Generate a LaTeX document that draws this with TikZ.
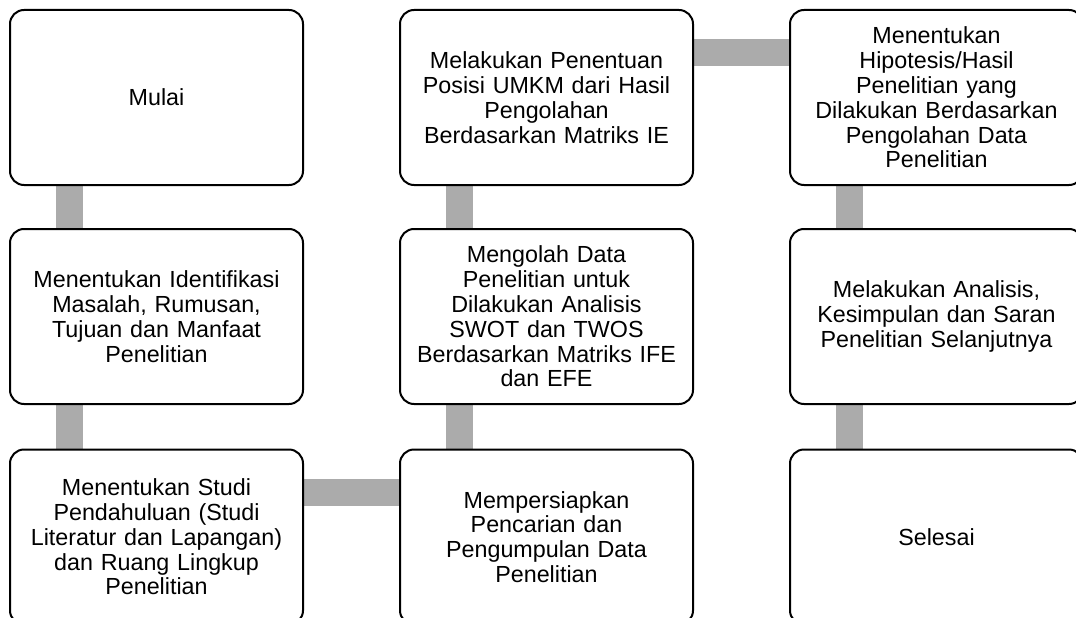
\documentclass[tikz,border=0pt]{standalone}
\usepackage{fontspec}
\setmainfont{Liberation Sans}
\usetikzlibrary{backgrounds}
\definecolor{abu}{HTML}{ABABAB}
\begin{document}
\begin{tikzpicture}[x=1pt,y=-1pt,
        tahap/.style={draw=black, line width=2pt, fill=white, rounded corners=14pt,
            minimum width=293pt, minimum height=175pt, text width=285pt, align=center,
            font=\fontsize{23.3}{24.8}\selectfont},
        penghubung/.style={draw=abu, line width=27pt}]
        \useasboundingbox (0,0) rectangle (1076,618);
        \clip (0,0) rectangle (1076,618);

        \node[tahap] (mulai) at (156.5,97.5) {Mulai};
        \node[tahap] (identifikasi) at (156.5,316.5) {Menentukan Identifikasi\\Masalah, Rumusan,\\Tujuan dan Manfaat\\Penelitian};
        \node[tahap] (studi) at (156.5,537) {Menentukan Studi\\Pendahuluan (Studi\\Literatur dan Lapangan)\\dan Ruang Lingkup\\Penelitian};

        \node[tahap] (pengumpulan) at (546.5,537) {Mempersiapkan\\Pencarian dan\\Pengumpulan Data\\Penelitian};
        \node[tahap] (olah) at (546.5,316.5) {Mengolah Data\\Penelitian untuk\\Dilakukan Analisis\\SWOT dan TWOS\\Berdasarkan Matriks IFE\\dan EFE};
        \node[tahap] (posisi) at (546.5,97.5) {Melakukan Penentuan\\Posisi UMKM dari Hasil\\Pengolahan\\Berdasarkan Matriks IE};

        \node[tahap] (hipotesis) at (936.5,97.5) {Menentukan\\Hipotesis/Hasil\\Penelitian yang\\Dilakukan Berdasarkan\\Pengolahan Data\\Penelitian};
        \node[tahap] (analisis) at (936.5,316.5) {Melakukan Analisis,\\Kesimpulan dan Saran\\Penelitian Selanjutnya};
        \node[tahap] (selesai) at (936.5,537) {Selesai};

        \begin{pgfonlayer}{background}
            \draw[penghubung] ([xshift=-87pt]mulai.south) -- ([xshift=-87pt]identifikasi.north);
            \draw[penghubung] ([xshift=-87pt]identifikasi.south) -- ([xshift=-87pt]studi.north);
            \draw[penghubung] ([yshift=45pt]studi.east) -- ([yshift=45pt]pengumpulan.west);
            \draw[penghubung] ([xshift=-87pt]pengumpulan.north) -- ([xshift=-87pt]olah.south);
            \draw[penghubung] ([xshift=-87pt]olah.north) -- ([xshift=-87pt]posisi.south);
            \draw[penghubung] ([yshift=45pt]posisi.east) -- ([yshift=45pt]hipotesis.west);
            \draw[penghubung] ([xshift=-87pt]hipotesis.south) -- ([xshift=-87pt]analisis.north);
            \draw[penghubung] ([xshift=-87pt]analisis.south) -- ([xshift=-87pt]selesai.north);
        \end{pgfonlayer}
    \end{tikzpicture}
\end{document}
